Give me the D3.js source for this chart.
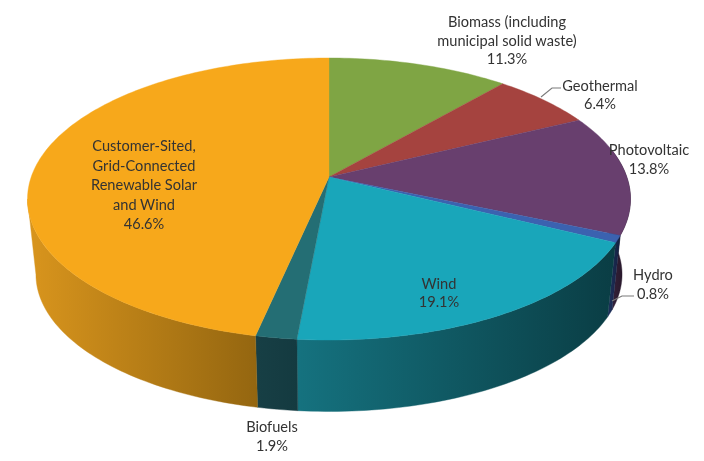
<!DOCTYPE html>
<html><head><meta charset="utf-8">
<script src="https://cdn.jsdelivr.net/npm/d3@7/dist/d3.min.js"></script>
<style>html,body{margin:0;background:#fff}svg{display:block;filter:blur(0.45px)}
text{font-family:Lato,"Open Sans",sans-serif;font-size:14.6px;fill:#333;text-anchor:middle}</style>
</head><body><svg id="c" width="704" height="461"></svg>
<script>
const categories=["Biomass","Geothermal","Photovoltaic","Hydro","Wind","Biofuels","Customer"];
const values=[11.3,6.4,13.8,0.8,19.1,1.9,46.6];
const labelLines=[["Biomass (including","municipal solid waste)","11.3%"],["Geothermal","6.4%"],["Photovoltaic","13.8%"],["Hydro","0.8%"],["Wind","19.1%"],["Biofuels","1.9%"],["Customer-Sited,","Grid-Connected","Renewable Solar","and Wind","46.6%"]];
const topColors=["#7fa544","#a5433f","#683f6e","#3b62b0","#19a6ba","#246e74","#f7a81b"];
const wallLeft=["#55702d","#702d2a","#3d2542","#1f3260","#15727f","#173f45","#d9951d"];
const wallRight=["#405522","#552220","#1f1322","#141f3d","#0a3d44","#143a40","#946610"];
const labelPos=[[507,27],[600,91],[649,155],[653,280],[439,289],[272,432],[144,151]];
const lineH=[18.5,18,19,19,18,19,19.5];
const cx=329,cy=177,bx=297.8,by=137.6,k=0.156;
const wallScale=0.972,wallDrop=76;
const frontStart=Math.acos(-k),frontEnd=2*Math.PI-frontStart;
const svg=d3.select("#c"),defs=svg.append("defs");
function proj(a,wall){const c=Math.sin(a),s=-Math.cos(a),w=1-k*s;
  const x=bx*c/w,y=by*s/w;
  return wall?[cx+x*wallScale,cy+wallDrop+y*wallScale]:[cx+x,cy+y];}
const arcs=d3.pie().sort(null).startAngle(0).endAngle(2*Math.PI)(values);
const line=d3.line();
function samples(a0,a1){const n=Math.max(2,Math.ceil((a1-a0)/0.02));return d3.range(n+1).map(i=>a0+(a1-a0)*i/n);}
const walls=svg.append("g"),tops=svg.append("g");
arcs.forEach((d,i)=>{
  defs.append("linearGradient").attr("id","g"+i).selectAll("stop").data([[0,wallLeft[i]],[1,wallRight[i]]]).join("stop").attr("offset",e=>e[0]).attr("stop-color",e=>e[1]);
  const a0=Math.max(d.startAngle,frontStart-0.35),a1=Math.min(d.endAngle,frontEnd);
  if(a1<=a0)return;
  const as=samples(a0,a1);
  walls.append("path").attr("d",line(as.map(a=>proj(a)).concat(as.slice().reverse().map(a=>proj(a,true))))+"Z").attr("fill",`url(#g${i})`).attr("stroke",`url(#g${i})`).attr("stroke-width",0.4);
});
arcs.forEach((d,i)=>{
  const as=samples(d.startAngle,d.endAngle);
  tops.append("path").attr("d",line([[cx,cy]].concat(as.map(a=>proj(a))))+"Z").attr("fill",topColors[i]).attr("stroke",topColors[i]).attr("stroke-width",0.4);
});
const leaders=[[[541,97],[552,88],[561,88]],[[612,301],[622,296],[634,296]]];
svg.append("g").selectAll("path").data(leaders).join("path").attr("d",d=>line(d)).attr("fill","none").attr("stroke","#7a7a7a").attr("stroke-width",1.1);
labelLines.forEach((ls,i)=>{
  const t=svg.append("text").attr("x",labelPos[i][0]).attr("y",labelPos[i][1]);
  ls.forEach((l,j)=>t.append("tspan").attr("x",labelPos[i][0]).attr("dy",j?lineH[i]:0).text(l));
});
</script></body></html>
